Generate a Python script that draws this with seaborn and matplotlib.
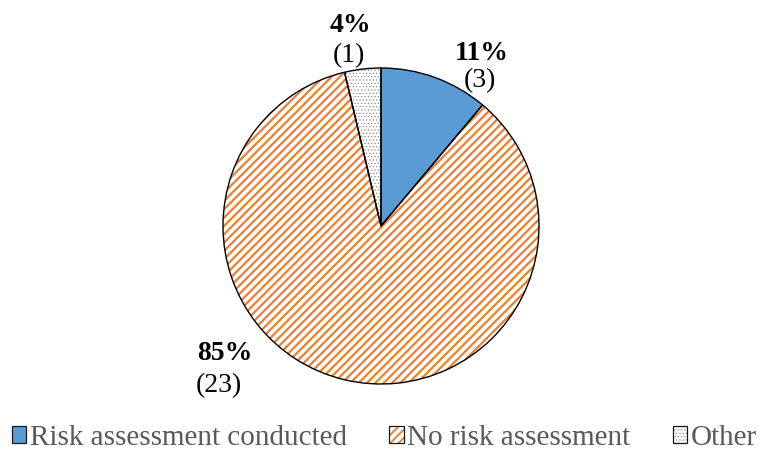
import matplotlib
matplotlib.use("Agg")
import matplotlib.pyplot as plt
from matplotlib.colors import to_rgba
from matplotlib.patches import Patch
import seaborn as sns

# Survey responses: was a risk assessment carried out?
categories = ["Risk assessment conducted", "No risk assessment", "Other"]
counts = [3, 23, 1]

sns.set_theme(style="white")
plt.rcParams["font.family"] = ["Liberation Serif", "DejaVu Serif"]
plt.rcParams["hatch.linewidth"] = 1.6

BLUE = "#5B9BD5"
ORANGE = "#ED7D31"
DOT_GREY = "#8C8C8C"
KEY_EDGE = "#1a1a1a"

# fill styles per slice: (face colour, hatch, hatch colour)
styles = [
    (BLUE, None, None),
    ("white", "////", ORANGE),
    ("white", ".....", DOT_GREY),
]
hatch_widths = [1.0, 1.6, 0.5]


def set_hatch_width(patch, lw):
    if hasattr(patch, "set_hatch_linewidth"):
        patch.set_hatch_linewidth(lw)


def set_hatch_colour(patch, colour):
    if hasattr(patch, "set_hatchcolor"):
        patch.set_hatchcolor(colour)
    else:
        patch._hatch_color = to_rgba(colour)


fig = plt.figure(figsize=(7.61, 4.51), dpi=100)
R_PX, CX, CY = 158, 381, 226
W, H = 761, 451
ax = fig.add_axes([(CX - R_PX) / W, (H - CY - R_PX) / H, 2 * R_PX / W, 2 * R_PX / H])

total = sum(counts)

# fill / hatch layer
wedges, _ = ax.pie(counts, startangle=90, counterclock=False, radius=1,
                   colors=["none"] * len(counts), wedgeprops=dict(linewidth=0))
for w, (face, hatch, hcol), hw in zip(wedges, styles, hatch_widths):
    w.set_facecolor(face)
    w.set_edgecolor(hcol if hcol else face)
    w.set_linewidth(0)
    if hatch:
        w.set_hatch(hatch)
        set_hatch_width(w, hw)

# outline layer
ax.pie(counts, startangle=90, counterclock=False, radius=1,
       colors=["none"] * len(counts),
       wedgeprops=dict(edgecolor="black", linewidth=1.0, fill=False))

ax.set_xlim(-1, 1)
ax.set_ylim(-1, 1)
ax.set_aspect("equal")
ax.axis("off")

# percentage + count labels, placed outside each slice
label_pos = [
    ((0.639, 1.051), (0.627, 0.880)),
    ((-0.987, -0.848), (-1.025, -1.051)),
    ((-0.196, 1.228), (-0.203, 1.038)),
]
for n, ((px, py), (qx, qy)) in zip(counts, label_pos):
    pct = round(100 * n / total)
    ax.text(px, py, f"{pct}%", ha="center", va="baseline", fontsize=20,
            fontweight="bold", color="black", clip_on=False)
    ax.text(qx, qy, f"({n})", ha="center", va="baseline", fontsize=20,
            color="black", clip_on=False)

# legend: small framed keys
handles = []
for (face, hatch, hcol), cat in zip(styles, categories):
    p = Patch(facecolor=face, edgecolor=KEY_EDGE, linewidth=0.9, hatch=hatch, label=cat)
    handles.append(p)

leg = fig.legend(handles=handles, loc="center right",
                 bbox_to_anchor=(757 / W, 1 - 438 / H), ncol=3, frameon=False,
                 fontsize=21, handlelength=0.5, handleheight=0.5,
                 handletextpad=0.12, columnspacing=1.45,
                 borderpad=0, borderaxespad=0)
for t in leg.get_texts():
    t.set_color("#595959")
for h, (face, hatch, hcol), hw in zip(leg.legend_handles, styles, hatch_widths):
    if hatch:
        set_hatch_colour(h, hcol)
        set_hatch_width(h, min(hw, 1.3))

fig.savefig("out.png", dpi=100)
